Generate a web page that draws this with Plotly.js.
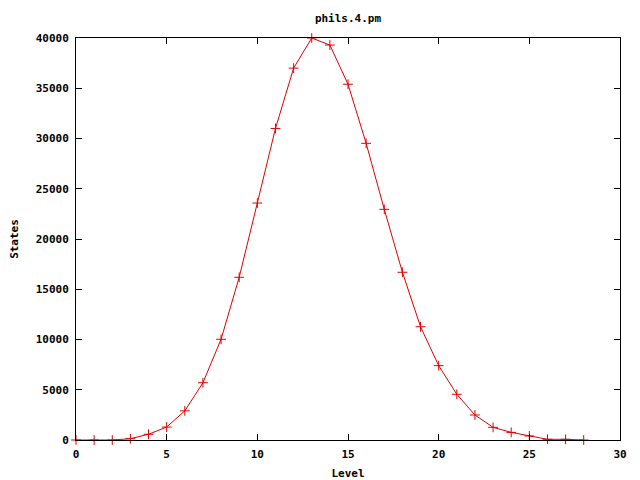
<!DOCTYPE html>
<html>
<head>
<meta charset="utf-8">
<script src="https://cdn.plot.ly/plotly-3.0.1.min.js"></script>
<style>html,body{margin:0;padding:0;background:#fff;}#chart{width:640px;height:480px;}</style>
</head>
<body>
<div id="chart"></div>
<script>
const levels = [0,1,2,3,4,5,6,7,8,9,10,11,12,13,14,15,16,17,18,19,20,21,22,23,24,25,26,27,28];
const states = [0,0,0,130,570,1290,2900,5700,10020,16190,23580,31000,37000,40000,39300,35400,29520,22950,16690,11270,7400,4550,2490,1260,760,400,70,70,0];
const xTicks = [0,5,10,15,20,25,30];
const yTicks = [0,5000,10000,15000,20000,25000,30000,35000,40000];

const fnt = {family: 'DejaVu Sans Mono, Liberation Mono, monospace', size: 11, color: '#000', weight: 'bold'};

const trace = {
  x: levels, y: states, type: 'scatter', mode: 'lines+markers',
  line: {color: '#e00000', width: 1},
  marker: {symbol: 'cross-thin-open', size: 7, line: {color: '#e00000', width: 1}},
  cliponaxis: false,
  showlegend: false
};

const axisCommon = {
  showline: true, linecolor: '#000', linewidth: 1, mirror: 'allticks',
  ticks: 'inside', ticklen: 6, tickcolor: '#000', tickwidth: 1,
  showgrid: false, zeroline: false, tickfont: fnt, tickformat: 'd'
};

const layout = {
  width: 640, height: 480,
  margin: {l: 76, r: 20, t: 38, b: 40},
  paper_bgcolor: '#fff', plot_bgcolor: '#fff',
  title: {text: '<b>phils.4.pm</b>', font: fnt, x: 0.5, xref: 'paper', y: 1 - 18/480, yref: 'container', yanchor: 'middle'},
  xaxis: Object.assign({}, axisCommon, {range: [0, 30], tickvals: xTicks, ticklabelstandoff: 4, title: {text: '<b>Level</b>', font: fnt, standoff: 12}}),
  yaxis: Object.assign({}, axisCommon, {range: [0, 40000], tickvals: yTicks, ticklabelstandoff: 4, title: {text: '<b>States</b>', font: fnt, standoff: 14}})
};

Plotly.newPlot('chart', [trace], layout, {displayModeBar: false, staticPlot: true});
</script>
</body>
</html>
